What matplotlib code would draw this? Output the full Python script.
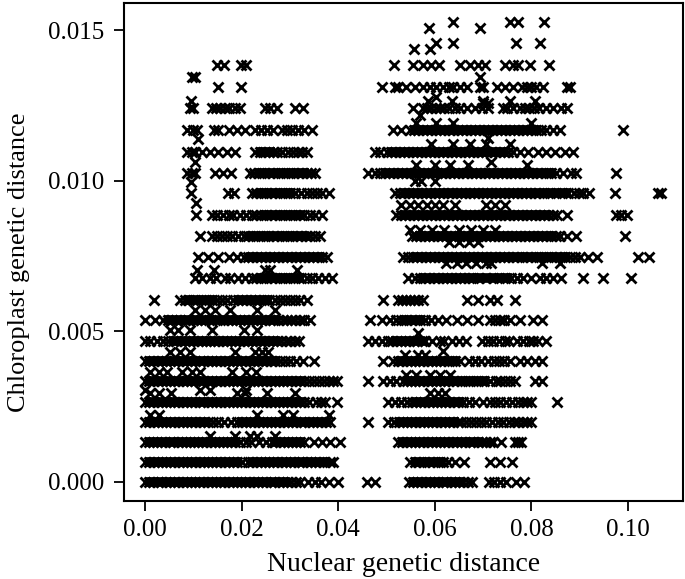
import matplotlib
matplotlib.use('Agg')
import matplotlib.pyplot as plt

# chloroplast distance of each horizontal band
levels = [0.0, 0.00065, 0.00133, 0.00199, 0.00265, 0.00335, 0.00402, 0.00468, 0.00538, 0.00604, 0.00677, 0.00747,
          0.00816, 0.00886, 0.00959, 0.01025, 0.01095, 0.01168, 0.01241, 0.01311, 0.01384, 0.01457, 0.01527]

# nuclear distance x 1000, one list per band
row0 = [0, .8, 1.7, 2.6, 3.4, 4.3, 5.2, 6, 6.9, 7.8, 8.6, 9.5, 10.4, 11.2, 12.1, 13, 13.8, 14.7, 15.6, 16.4, 17.3, 18.2,
        19, 19.9, 20.8, 21.6, 22.5, 23.4, 24.2, 25.1, 26, 26.8, 27.7, 28.6, 29.4, 30.3, 31.2, 32, 33.8, 35.2, 36.5, 38,
        39.9, 46, 47.6, 54.6, 55.5, 56.4, 57.2, 58.1, 59, 59.8, 60.7, 61.6, 62.4, 63.3, 64.2, 65, 65.9, 66.8, 67.8,
        71.2, 72.3, 73.5, 74.8, 76.8, 78.5]
row1 = [0, .9, 1.8, 2.6, 3.5, 4.4, 5.2, 6.1, 7, 7.8, 8.7, 9.6, 10.4, 11.3, 12.2, 13, 13.9, 14.8, 15.6, 16.5, 17.4, 18.2,
        19.1, 20, 21.4, 22.2, 23.1, 24, 24.8, 25.7, 26.6, 27.4, 28.3, 29.2, 30, 30.9, 31.8, 32.6, 33.5, 34.4, 35.2,
        36.1, 37, 38.3, 39, 54.8, 55.8, 56.8, 57.8, 58.7, 59.6, 60.6, 61.6, 62.8, 64.2, 66, 71.4, 73.5, 75.9]
row2 = [0, .8, 1.7, 2.5, 3.4, 4.2, 5.1, 5.9, 6.8, 7.6, 8.5, 9.3, 10.2, 11, 11.9, 12.7, 13.6, 14.4, 15.3, 16.1, 17, 17.8,
        18.7, 19.7, 21, 22, 23.5, 25, 26.2, 27, 27.9, 28.7, 29.6, 30.4, 31.3, 32.1, 33, 34.9, 36.6, 38.3, 40.4, 52.4,
        53.3, 54.2, 55, 55.9, 56.8, 57.6, 58.5, 59.4, 60.2, 61.1, 62, 62.8, 63.7, 64.6, 65.4, 66.3, 67.2, 68, 68.9,
        69.8, 70.6, 71.4, 72.1, 73.8, 76.6, 77.2, 77.8]
row3 = [0, .9, 1.8, 2.6, 3.5, 4.4, 5.2, 6.1, 7, 7.8, 8.7, 9.6, 10.4, 11.3, 12.2, 13, 14, 15.2, 16.4, 17.8, 19, 20, 20.9,
        21.8, 22.6, 23.5, 24.4, 25.2, 26.1, 27, 27.8, 28.7, 29.6, 30.4, 31.3, 32.2, 33, 33.9, 34.8, 35.6, 36.5, 37.4,
        38.3, 46.2, 50.3, 51.5, 52.5, 53.4, 54.3, 55.1, 56, 56.9, 57.7, 58.6, 59.5, 60.3, 61.2, 62.1, 62.9, 63.8, 64.7,
        65.5, 66.4, 67.4, 68.6, 69.6, 70.6, 71.8, 73, 74.2, 75.4, 76.4, 77.3, 78.2, 79.1, 80]
row4 = [0, .9, 1.7, 2.6, 3.5, 4.3, 5.2, 6.1, 6.9, 7.8, 8.7, 9.5, 10.4, 11.3, 12.1, 13, 13.9, 14.7, 15.6, 16.5, 17.3,
        18.2, 19.1, 19.9, 20.8, 21.7, 22.5, 23.4, 24.3, 25.1, 26, 26.9, 27.7, 28.6, 29.5, 30.3, 31.2, 32.1, 32.9, 34,
        35.4, 36.4, 37.3, 39.8, 50.3, 51.8, 53, 54.2, 55.2, 56.1, 57, 57.8, 58.7, 59.6, 60.4, 61.3, 62.2, 63, 63.9,
        64.8, 65.9, 67, 68.4, 70, 71.4, 72.4, 73.6, 74.8, 76, 77.2, 78.2, 79.1, 80, 85.3]
row5 = [0, .9, 1.7, 2.6, 3.5, 4.3, 5.2, 6.1, 6.9, 7.8, 8.7, 9.5, 10.4, 11.3, 12.1, 13, 13.9, 14.7, 15.6, 16.5, 17.3,
        18.2, 19.1, 19.9, 20.8, 21.7, 22.5, 23.4, 24.3, 25.1, 26, 26.9, 27.7, 28.6, 29.5, 30.3, 31.2, 32.1, 33, 34,
        35, 36, 37, 38, 39, 39.7, 46.2, 49.3, 50.7, 52, 53.4, 54.2, 55, 55.9, 56.8, 57.6, 58.5, 59.4, 60.2, 61.1, 62,
        62.8, 63.7, 64.6, 65.6, 66.8, 68, 69, 70.2, 71.4, 72.6, 73.6, 74.6, 75.5, 76.6, 80.7, 82.1]
row6 = [0, .9, 1.7, 2.6, 3.5, 4.3, 5.2, 6.1, 6.9, 7.8, 8.7, 9.5, 10.4, 11.3, 12.1, 13, 13.9, 14.7, 15.6, 16.5, 17.3,
        18.2, 19.1, 19.9, 20.8, 21.7, 22.5, 23.4, 24.3, 25.1, 26, 27, 28, 29, 30, 31.2, 32.8, 34.9, 49.3, 51.4, 52.4,
        53.3, 54.2, 55, 55.9, 56.8, 57.6, 58.5, 59.4, 60.2, 61.1, 62, 63, 64.2, 65.2, 67, 68.4, 69.6, 71, 72.2, 73.2,
        74.4, 75.5, 77.6, 79, 80.7, 82.1]
row7 = [0, 1, 2.4, 3.8, 4.8, 5.7, 6.5, 7.4, 8.3, 9.1, 10, 10.9, 11.7, 12.6, 13.5, 14.3, 15.2, 16.1, 16.9, 17.8, 18.7,
        19.5, 20.4, 21.3, 22.1, 23, 23.9, 24.7, 25.6, 26.5, 27.3, 28.2, 29.1, 30, 31, 31.8, 46.2, 47.6, 49, 50.4, 51.2,
        52.1, 53, 53.8, 54.7, 55.6, 56.4, 57.3, 58, 59.5, 61, 62, 63.5, 65, 66.5, 69.7, 71, 72, 73.2, 74.6, 75.4, 77,
        78.2, 79.4, 80.4, 81.4, 83.1]
row8 = [0, 2.1, 3.8, 4.7, 5.6, 6.4, 7.3, 8.2, 9, 9.9, 10.8, 11.6, 12.5, 13.6, 15, 16.2, 17.1, 18, 18.8, 19.7, 20.6,
        21.4, 22.3, 23.2, 24, 24.9, 25.8, 26.6, 27.5, 28.6, 29.3, 30.2, 31.1, 32, 33, 34.2, 46.5, 49, 50.7, 52, 53, 54,
        55, 56, 57, 58, 59.3, 60.7, 62.4, 64.5, 66.6, 69, 71.4, 72.4, 73.4, 74.4, 75.5, 77.6, 80.4, 82.1]
row9 = [1.9, 7.3, 8.2, 9.2, 10.4, 11.5, 12.6, 13.8, 15, 15.9, 16.9, 18.3, 19.2, 20.1, 21, 21.9, 22.8, 23.7, 24.6, 25.6,
        26.9, 28, 29, 30, 31, 32, 33.5, 49.3, 52.4, 53.2, 54, 54.8, 55.6, 56.6, 57.6, 66.6, 69, 71.4, 72.8, 76.7]
row10 = [10.4, 11.7, 13.5, 14.8, 16.6, 17.6, 19.3, 20.7, 22.1, 23, 24, 25, 26, 27, 28, 29, 30, 31, 32.2, 33.5, 34.5,
         35.9, 37.3, 38.7, 54.5, 55.8, 57, 58, 58.9, 59.8, 60.7, 61.6, 62.5, 63.4, 64.3, 65.2, 66.1, 67, 68, 69.2, 70.6,
         72, 73.2, 74.5, 75.8, 77, 78.3, 80, 81.7, 83.1, 84.5, 86.2, 90.7, 94.8, 100.7]
row11 = [11, 13.1, 15.2, 17.3, 19, 20.4, 21.3, 22.2, 23.1, 24, 24.9, 25.8, 26.7, 27.6, 28.5, 29.4, 30.3, 31.2, 32.1, 33,
         33.9, 34.8, 35.7, 36.6, 37.6, 53.4, 54.5, 55.4, 56.3, 57.2, 58.1, 59, 59.9, 60.8, 61.7, 62.6, 63.5, 64.4, 65.3,
         66.2, 67.1, 68, 68.9, 69.8, 70.7, 71.6, 72.5, 73.4, 74.3, 75.2, 76.1, 77, 78, 79, 80, 81, 82, 83, 84, 85, 86,
         87, 88, 89, 90, 91.7, 93.5, 102.1, 104.3]
row12 = [11.4, 13.8, 15, 16, 17, 18, 19.3, 20.4, 21.4, 22.4, 23.4, 24.4, 25.4, 26.4, 27.4, 28.4, 29.4, 30.4, 31.4, 32.4,
         33.4, 34.2, 35.2, 36.2, 55.2, 56.1, 57, 57.9, 58.8, 59.7, 60.6, 61.5, 62.4, 63.3, 64.2, 65.1, 66, 66.9, 67.8,
         68.7, 69.6, 70.5, 71.4, 72.3, 73.2, 74.1, 75, 75.9, 76.8, 77.7, 78.6, 79.5, 80.4, 81.3, 82.2, 83.1, 84, 85,
         85.9, 87.3, 89.3, 99.3]
row13 = [10.5, 13.8, 15, 16.2, 17.4, 18.3, 19.7, 21, 22.1, 23, 24, 25, 26, 27, 28, 29, 30, 31, 32, 33, 34.2, 35.2, 36.6,
         52, 52.9, 53.8, 54.7, 55.6, 56.5, 57.4, 58.3, 59.2, 60.1, 61, 61.9, 62.8, 63.7, 64.6, 65.5, 66.4, 67.3, 68.2,
         69.1, 70, 70.9, 71.8, 72.7, 73.6, 74.5, 75.4, 76.3, 77.2, 78.1, 79, 79.9, 80.8, 81.7, 82.6, 83.5, 84.4, 85.2,
         87.3, 97.6, 98.6, 99.7]
row14 = [9.5, 17.1, 18.5, 22.1, 23, 24, 25, 26, 27, 28, 29, 30, 31, 32.2, 33.5, 34.5, 35.6, 36.6, 38.1, 51.7, 52.8, 53.7,
         54.6, 55.5, 56.4, 57.3, 58.2, 59.1, 60, 60.9, 61.8, 62.7, 63.6, 64.5, 65.4, 66.3, 67.2, 68.1, 69, 69.9, 70.8,
         71.7, 72.6, 73.5, 74.4, 75.3, 76.2, 77.1, 78, 78.9, 79.8, 80.7, 81.6, 82.6, 83.8, 85, 86.4, 87.6, 88.8, 89.8,
         90.7, 92, 97.4, 106.2, 106.9]
row15 = [8.6, 9.7, 10.4, 14.5, 16.2, 17.9, 21.7, 22.6, 23.6, 24.6, 25.6, 26.6, 27.6, 28.6, 29.6, 30.6, 31.6, 32.6, 33.6,
         34.4, 35.2, 46.2, 47.6, 48.6, 49.6, 50.5, 51.4, 52.3, 53.2, 54.1, 55, 55.9, 56.8, 57.7, 58.6, 59.5, 60.4, 61.3,
         62.2, 63.1, 64, 64.9, 65.8, 66.7, 67.6, 68.5, 69.4, 70.3, 71.2, 72.1, 73, 73.9, 74.8, 75.7, 76.6, 77.5, 78.4,
         79.3, 80.2, 81.1, 82, 83, 84, 85, 86.6, 88.3, 89.3, 97.6]
row16 = [8.6, 9.7, 10.4, 11.7, 13.5, 15.2, 16.9, 18.6, 22.8, 23.8, 24.8, 25.6, 26.5, 27.4, 28.4, 29.7, 30.7, 31.7, 32.6,
         33.5, 47.6, 48.6, 50, 50.9, 51.8, 52.7, 53.6, 54.5, 55.4, 56.3, 57.2, 58.1, 59, 59.9, 60.8, 61.7, 62.6, 63.5,
         64.4, 65.3, 66.2, 67.1, 68, 68.9, 69.8, 70.7, 71.6, 72.5, 73.4, 74.3, 75.2, 76.2, 77.6, 79.3, 81.4, 83.1, 84.8,
         86.9, 88.6]
row17 = [8.6, 10, 10.7, 14.2, 15.2, 17.3, 19, 20.7, 22.8, 24, 25.2, 26.4, 28.3, 29.3, 30.4, 31.6, 33, 34.5, 51.4, 53.1,
         54.8, 55.7, 56.6, 57.5, 58.4, 59.3, 60.2, 61.1, 62, 62.9, 63.8, 64.7, 65.6, 66.5, 67.4, 68.3, 69.2, 70.1, 71,
         71.9, 72.8, 73.7, 74.6, 75.5, 76.4, 77.3, 78.2, 79.1, 80, 81, 82, 83.1, 84.5, 85.9, 98.9]
row18 = [9.3, 10, 13.8, 14.7, 15.6, 16.5, 17.4, 18.6, 19.7, 24.9, 25.9, 27.3, 31, 32.8, 55.5, 57.6, 58.4, 59.3, 60.2,
         61.1, 62, 63, 64.2, 65.2, 66.6, 68.3, 69.7, 71, 74.1, 75, 76.2, 77.6, 78.6, 79.6, 80.6, 81.6, 83, 84.5, 86.2,
         87.3]
row19 = [15.2, 19.8, 49, 51.7, 52.4, 54.1, 55.9, 57.6, 59, 60.2, 61.7, 62.9, 63.8, 65.2, 66.6, 69.3, 70, 72.8, 74.5, 76.2,
         78, 79, 80, 81, 82.4, 87.3, 88]
row20 = [15, 16.4, 19.8, 21, 51.5, 55.5, 57.6, 59.3, 60.9, 65.2, 67.2, 69, 70.4, 74.5, 76.2, 77.3, 79.7, 83.7]
row21 = [60.3, 63.8, 76.8, 81.7]
row22 = [63.8, 75.5, 77.3, 82.6]

# points that sit between the bands
off_x = [13.5, 18.6, 21.7, 23.1, 26.9, 1, 3, 23.1, 28.6, 30.7, 38, 1, 3, 5.3, 19, 20.7, 25.2, 31, 59, 60.7, 62.1, 0, 11.4,
         13.5, 21, 1, 3, 4.5, 7.6, 9.7, 11.4, 18, 21, 23, 54.1, 56.2, 59, 61, 63.1, 5.2, 7.3, 9.3, 18.6, 22.8, 24.2, 25.5,
         53.8, 56.5, 57.9, 61.7, 5.2, 6.9, 9.3, 13.8, 20.4, 23.1, 56.5, 10.4, 12.4, 14.5, 17.6, 23.1, 26.9, 10.7, 14.2,
         24.9, 25.9, 31.4, 62.4, 64.5, 66.5, 68.5, 70.5, 71.7, 82.1, 85.9, 54.8, 57, 59.5, 62, 65, 67.5, 70, 72.4, 63, 65,
         67, 69, 53.1, 54.8, 56.5, 58.3, 60, 61.7, 64.1, 70.7, 72.4, 74.5, 10.5, 55.9, 57.2, 60, 9.5, 56.2, 60, 63.1, 66.9,
         79, 71.7, 10.4, 59.3, 63.8, 67.2, 70.7, 75.5, 11, 56.2, 60.3, 63.8, 80, 71, 9.5, 56.9, 58.6, 63.5, 70, 75.5, 80.7,
         9.7, 10.4, 69.3, 60.2, 70, 71, 55.6, 59, 58.8, 69.4]
off_y = [.00153, .00153, .00153, .00153, .00153, .00222, .00222, .00222, .00222, .00222, .00222, .00295, .00295, .00295,
         .00295, .00295, .00295, .00295, .00295, .00295, .00295, .00305, .00305, .00305, .00305, .00365, .00365, .00365,
         .00365, .00365, .00365, .00365, .00365, .00365, .00355, .00355, .00355, .00355, .00355, .00432, .00432, .00432,
         .00432, .00432, .00432, .00432, .00421, .00421, .00421, .00435, .00504, .00504, .00504, .00504, .00504, .00504,
         .00495, .00571, .00571, .00571, .00571, .00571, .00571, .00705, .00705, .00705, .00705, .00705, .00727, .00727,
         .00727, .00727, .00727, .00727, .00727, .00727, .00836, .00836, .00836, .00836, .00836, .00836, .00836, .00836,
         .00796, .00796, .00796, .00796, .00919, .00919, .00919, .00919, .00919, .00919, .00919, .00919, .00919, .00919,
         .00925, .00998, .00998, .00998, .00995, .01052, .01052, .01052, .01052, .01052, .01062, .01062, .01122, .01122,
         .01122, .01122, .01122, .01138, .01193, .01193, .01193, .01193, .01143, .01265, .01217, .01263, .01263, .01263,
         .01263, .01263, .01345, .01345, .01345, .01277, .01257, .01257, .01438, .01438, .01505, .01505]

# stretches of a band where the crosses overprint to solid black (band index, from, to)
solid_band = [0, 0, 1, 1, 1, 2, 2, 2, 3, 3, 3, 4, 4, 5, 5, 6, 6, 7, 7, 8, 8, 9, 9, 10, 10, 11, 11, 12, 12, 13, 13, 14, 14,
              15, 15, 16, 16, 17]
solid_from = [0, 54.7, 0, 21.4, 55, 0, 26.2, 52.4, 0, 19, 52, 0, 55, 0, 54, 0, 52, 5, 51, 4, 53, 8, 18.5, 23, 57, 21, 55,
              21, 56, 24, 53, 23, 53, 23, 49, 23, 50, 55]
solid_to = [30, 66, 20, 38, 62, 19.7, 33, 70, 13.5, 38, 65, 33, 66, 33, 71, 28, 65, 28, 58, 28, 58, 15, 26, 33, 76, 37, 88,
            34, 85, 33, 84, 31, 88, 34, 85, 27, 75, 82]

xticks = [0.00, 0.02, 0.04, 0.06, 0.08, 0.10]
yticks = [0.000, 0.005, 0.010, 0.015]
xlabel = 'Nuclear genetic distance'
ylabel = 'Chloroplast genetic distance'

rows = [row0, row1, row2, row3, row4, row5, row6, row7, row8, row9, row10, row11,
        row12, row13, row14, row15, row16, row17, row18, row19, row20, row21, row22]


def main():
    plt.rcParams['font.family'] = ['Liberation Serif', 'DejaVu Serif']
    w, h = 685, 579
    fig = plt.figure(figsize=(w / 100, h / 100), dpi=100)
    # frame position in pixels of the reference
    left, right, top, bottom = 124, 683, 3, 501
    ax = fig.add_axes([left / w, 1 - bottom / h, (right - left) / w, (bottom - top) / h])

    ax.hlines([levels[b] for b in solid_band], [x / 1000 for x in solid_from], [x / 1000 for x in solid_to],
              color='black', lw=7)
    for y, xs in zip(levels, rows):
        ax.plot([x / 1000 for x in xs], [y] * len(xs), 'x', color='black', ms=7.4, mew=2.0)
    ax.plot([x / 1000 for x in off_x], off_y, 'x', color='black', ms=7.4, mew=2.0)

    ax.set_xlim((left - 145) / 4830, (right - 145) / 4830)
    ax.set_ylim((482 - bottom) / 30133, (482 - top) / 30133)
    ax.set_xticks(xticks, ['%.2f' % t for t in xticks])
    ax.set_yticks(yticks, ['%.3f' % t for t in yticks])
    ax.tick_params(axis='x', labelsize=18, length=7.2, width=1.3, pad=5.5)
    ax.tick_params(axis='y', labelsize=18, length=7.2, width=1.3, pad=7)
    ax.set_xlabel(xlabel, fontsize=20, labelpad=8)
    ax.set_ylabel(ylabel, fontsize=19)
    ax.yaxis.set_label_coords(-0.168, 0.48)
    for s in ax.spines.values():
        s.set_linewidth(1.5)

    fig.savefig('out.png', dpi=100)


if __name__ == "__main__":
    main()
